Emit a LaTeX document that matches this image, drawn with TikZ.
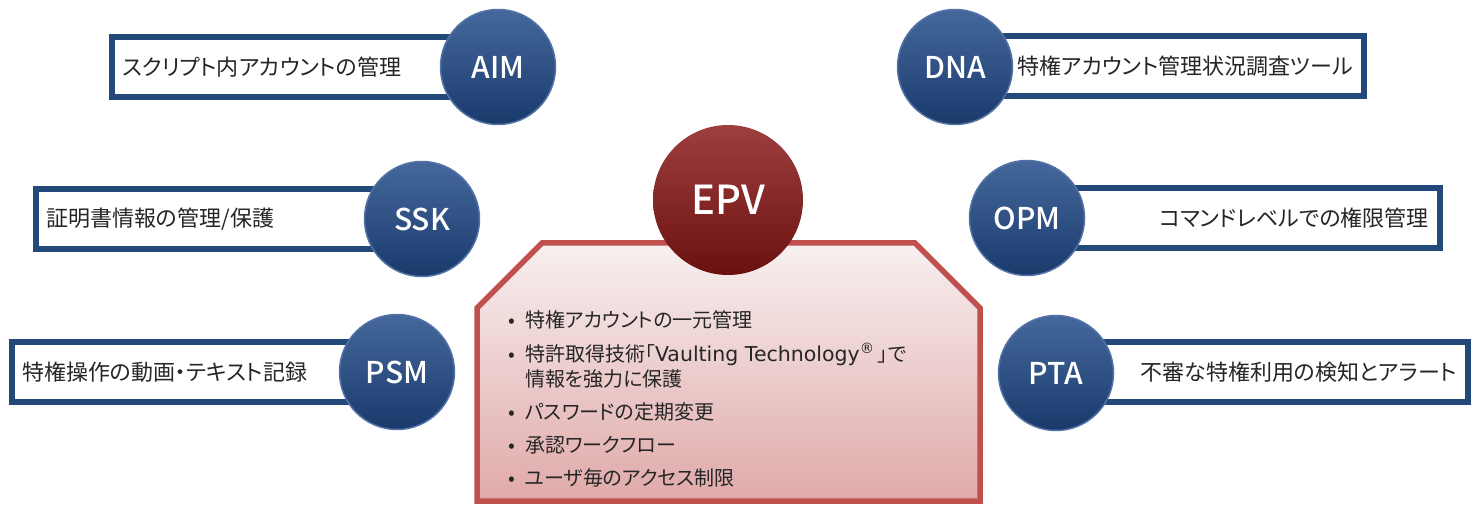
\documentclass[tikz,border=0pt]{standalone}
\usepackage{fontspec}
\setmainfont[RawFeature=+palt]{Noto Sans CJK JP}
\newfontfamily\medfont{Noto Sans CJK JP Medium}
\newfontfamily\latinfont{DejaVu Sans}
\usetikzlibrary{positioning}

\definecolor{navy}{HTML}{23487A}
\definecolor{bluering}{HTML}{5372A6}
\definecolor{bluetop}{HTML}{45689C}
\definecolor{bluebot}{HTML}{193A6B}
\definecolor{redtop}{HTML}{9E3F3F}
\definecolor{redbot}{HTML}{6B1010}
\definecolor{redline}{HTML}{C0504D}
\definecolor{pinktop}{HTML}{F8F0F0}
\definecolor{pinkbot}{HTML}{E0A9A9}
\definecolor{ink}{HTML}{262626}

\tikzset{
  infobox/.style={draw=navy, line width=6pt, fill=white, minimum height=60pt, inner sep=0pt},
  boxtext/.style={inner sep=0pt, text=ink, font=\fontsize{22}{26}\selectfont},
  module/.style={circle, minimum size=115pt, inner sep=0pt, top color=bluetop, bottom color=bluebot,
    draw=bluering, line width=1.5pt, text=white, font=\fontsize{30}{34}\selectfont\medfont},
  vault/.style={circle, minimum size=150pt, inner sep=0pt, top color=redtop, bottom color=redbot,
    text=white, font=\fontsize{40}{44}\selectfont\medfont},
  listtext/.style={inner sep=0pt, text=ink, align=left, font=\fontsize{20}{25}\selectfont}
}

\begin{document}
\begin{tikzpicture}[x=1pt, y=-1pt]
  \useasboundingbox (0,0) rectangle (1478,505);

  % left side
  \node[infobox, minimum width=370pt, anchor=west] (aimbox) at (109,67) {};
  \node[infobox, minimum width=380pt, anchor=west] (sskbox) at (33,219) {};
  \node[infobox, minimum width=380pt, anchor=west] (psmbox) at (9,372) {};
  \node[boxtext, right=13pt of aimbox.west] (aimtext) {スクリプト内アカウントの管理};
  \node[boxtext, right=13pt of sskbox.west] (ssktext) {証明書情報の管理/保護};
  \node[boxtext, right=13pt of psmbox.west] (psmtext) {特権操作の動画・テキスト記録};
  \node[module] (aim) at (498,67) {AIM};
  \node[module] (ssk) at (422,219) {SSK};
  \node[module] (psm) at (397,372) {PSM};

  % right side
  \node[infobox, minimum width=390pt, anchor=east] (dnabox) at (1367,66) {};
  \node[infobox, minimum width=400pt, anchor=east] (opmbox) at (1443,218) {};
  \node[infobox, minimum width=400pt, anchor=east] (ptabox) at (1471,372) {};
  \node[boxtext, left=14pt of dnabox.east] (dnatext) {特権アカウント管理状況調査ツール};
  \node[boxtext, left=14pt of opmbox.east] (opmtext) {コマンドレベルでの権限管理};
  \node[boxtext, left=14pt of ptabox.east] (ptatext) {不審な特権利用の検知とアラート};
  \node[module] (dna) at (955,67) {DNA};
  \node[module] (opm) at (1027,218) {OPM};
  \node[module] (pta) at (1056,373) {PTA};

  % EPV
  \path[draw=redline, line width=5.5pt, line join=miter, top color=pinktop, bottom color=pinkbot]
    (477,501) -- (477,308) -- (542,243) -- (915,243) -- (980,308) -- (980,501) -- cycle;
  \node[vault] (epv) at (728,200) {EPV};
  \node[listtext, anchor=north west] (epvlist) at (508,310) {%
    \begin{tabular}{@{}l@{\hspace{10pt}}l@{}}
      • & 特権アカウントの一元管理\\[8pt]
      • & 特許取得技術「{\latinfont\fontsize{20.5}{25}\selectfont Vaulting Technology\textsuperscript{®}}\,」で\\
        & 情報を強力に保護\\[8pt]
      • & パスワードの定期変更\\[8pt]
      • & 承認ワークフロー\\[8pt]
      • & ユーザ毎のアクセス制限
    \end{tabular}};
\end{tikzpicture}
\end{document}
